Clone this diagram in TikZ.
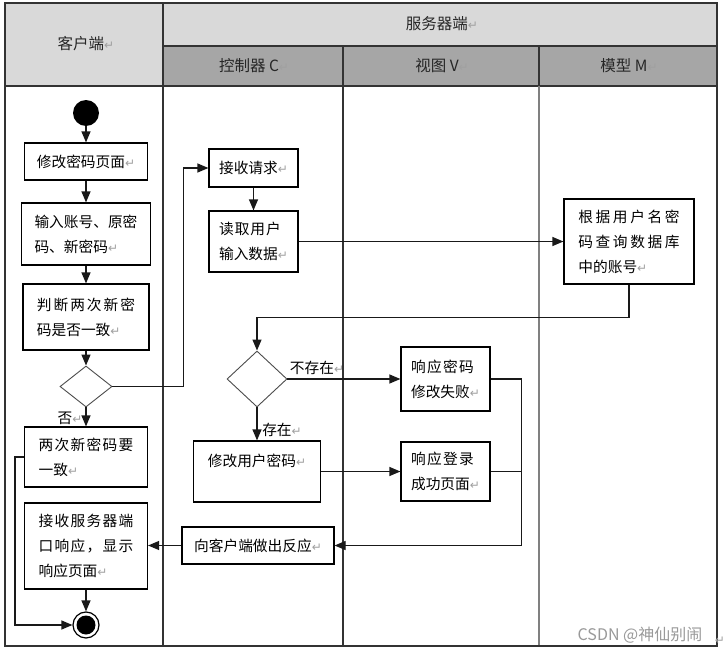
\documentclass[tikz,border=0pt]{standalone}
\usepackage{fontspec}
\setmainfont{Noto Sans CJK SC}
\newfontfamily\symf{DejaVu Sans}
\usetikzlibrary{arrows.meta,shapes.geometric,calc}
\definecolor{hdrA}{HTML}{D9D9D9}
\definecolor{hdrB}{HTML}{A6A6A6}
\definecolor{retc}{HTML}{A0A0A0}
\newcommand\ret{{\color{retc}\symf\fontsize{12}{12}\selectfont ↵}}
\newlength\jsgap
\def\jsp#1#2{\setlength\jsgap{#1}\jspA#2\jspEnd}
\def\jspA#1#2\jspEnd{#1\ifx\relax#2\relax\else\hspace{\jsgap}\jspA#2\jspEnd\fi}
\tikzset{
  box/.style={draw=black, line width=1.2pt, inner sep=0pt, font=\fontsize{14.7}{25}\selectfont, align=left},
  dec/.style={diamond, draw=black!70, line width=0.9pt, inner sep=0pt},
  arr/.style={line width=1.2pt, draw=black!90, -{Triangle[length=11pt,width=9pt]}},
  ln/.style={line width=1.2pt, draw=black!90},
  lab/.style={font=\fontsize{14.7}{18}\selectfont, inner sep=0pt},
  hdr/.style={font=\fontsize{15.5}{18}\selectfont, text=black!85, inner sep=0pt},
  tbl/.style={draw=black!80, line width=1.2pt},
  sepl/.style={draw=black!50, line width=1.6pt}
}
\begin{document}
\begin{tikzpicture}[x=1pt,y=-1pt]
\useasboundingbox (0,0) rectangle (724,653);
\fill[white] (0,0) rectangle (724,653);
% table
\fill[hdrA] (5,3) rectangle (717,46);
\fill[hdrA] (5,46) rectangle (163,86);
\fill[hdrB] (163,46) rectangle (717,86);
\draw[tbl] (163,46) -- (717,46);
\draw[tbl] (5,86) -- (717,86);
\draw[tbl] (163,3) -- (163,646);
\draw[tbl] (343,46) -- (343,646);
\draw[tbl] (539,46) -- (539,86);
\draw[sepl] (539,86) -- (539,646);
\draw[tbl] (5,3) rectangle (717,646);
% headers
\node[hdr] (hC) at (86,44) {客户端\ret};
\node[hdr] (hS) at (442,24) {服务器端\ret};
\node[hdr] (hCtrl) at (254,66) {控制器 C\ret};
\node[hdr] (hV) at (442,66) {视图 V\ret};
\node[hdr] (hM) at (629,66) {模型 M\ret};
% client lane
\node[circle, fill=black, minimum size=26pt, inner sep=0pt] (start) at (86,113) {};
\node[box, minimum width=123pt, minimum height=37pt] (b1) at (86,161.5) {修改密码页面\ret};
\node[box, minimum width=129pt, minimum height=62pt] (b2) at (86,234) {输入账号、原密\\码、新密码\ret};
\node[box, minimum width=126pt, minimum height=66pt] (b3) at (86,317) {\jsp{2pt}{判断两次新密}\\码是否一致\ret};
\node[dec, minimum width=52pt, minimum height=41pt] (d1) at (86,386.5) {};
\node[box, minimum width=123pt, minimum height=60pt] (b4) at (86,457) {\jsp{1.3pt}{两次新密码要}\\一致\ret};
\node[box, minimum width=123pt, minimum height=86pt] (b5) at (86,546) {\jsp{1.3pt}{接收服务器端}\\\jsp{1.3pt}{口响应，显示}\\响应页面\ret};
\node[circle, draw=black, line width=1.2pt, minimum size=26pt, inner sep=0pt,
      path picture={\fill[black] (path picture bounding box.center) circle (9.5pt);}] (end) at (86,625) {};
% controller lane
\node[box, minimum width=89pt, minimum height=38pt] (c1) at (253.5,168) {接收请求\ret};
\node[box, minimum width=89pt, minimum height=61pt] (c2) at (253.5,241.5) {\jsp{1pt}{读取用户}\\输入数据\ret};
\node[dec, minimum width=60pt, minimum height=56pt] (d2) at (257,379) {};
\node[box, minimum width=127pt, minimum height=61pt] (c3) at (257,471.5) {};
\node[lab] (c3t) at (257,461) {修改用户密码\ret};
\node[box, minimum width=152pt, minimum height=37pt] (c4) at (258,545.5) {向客户端做出反应\ret};
% view lane
\node[box, minimum width=89pt, minimum height=64pt] (v1) at (445.5,379) {\jsp{1.3pt}{响应密码}\\修改失败\ret};
\node[box, minimum width=89pt, minimum height=59pt] (v2) at (445.5,471.5) {\jsp{1.3pt}{响应登录}\\成功页面\ret};
% model lane
\node[box, minimum width=130pt, minimum height=85pt] (m1) at (629,241.5) {\jsp{2.6pt}{根据用户名密}\\\jsp{2.6pt}{码查询数据库}\\中的账号\ret};
% labels
\node[lab] (lno) at (70,418) {否\ret};
\node[lab] (lyes) at (282,430) {存在\ret};
\node[lab] (lnot) at (317,368) {不存在\ret};
% connectors
\draw[arr] (start) -- (b1);
\draw[arr] (b1) -- (b2);
\draw[arr] (b2) -- (b3);
\draw[arr] (b3) -- (d1);
\draw[arr] (d1) -- (b4);
\draw[arr] (d1.east) -- ++(71,0) |- (c1.west);
\draw[arr] (c1) -- (c2);
\draw[arr] (c2) -- (m1);
\draw[arr] (m1.south) -- ++(0,33) -| (d2.north);
\draw[arr] (d2.east) -- (v1.west);
\draw[arr] (d2.south) -- (d2.south |- c3.north);
\draw[arr] (c3) -- (v2);
\draw[arr] (v1.east) -- ++(31,0) |- (c4.east);
\draw[ln] (v2.east) -- ++(31,0);
\draw[arr] (c4.west) -- (c4.west -| b5.east);
\draw[arr] (b5) -- (end);
\draw[arr] (b4.west) -- ++(-9,0) |- (end.west);
% watermark
\node[font=\fontsize{16}{16}\selectfont, text=black!40, inner sep=0pt] (wm) at (640,635) {CSDN @神仙别闹};
\node[inner sep=0pt] (wmr) at (720,641) {\ret};
\end{tikzpicture}
\end{document}
